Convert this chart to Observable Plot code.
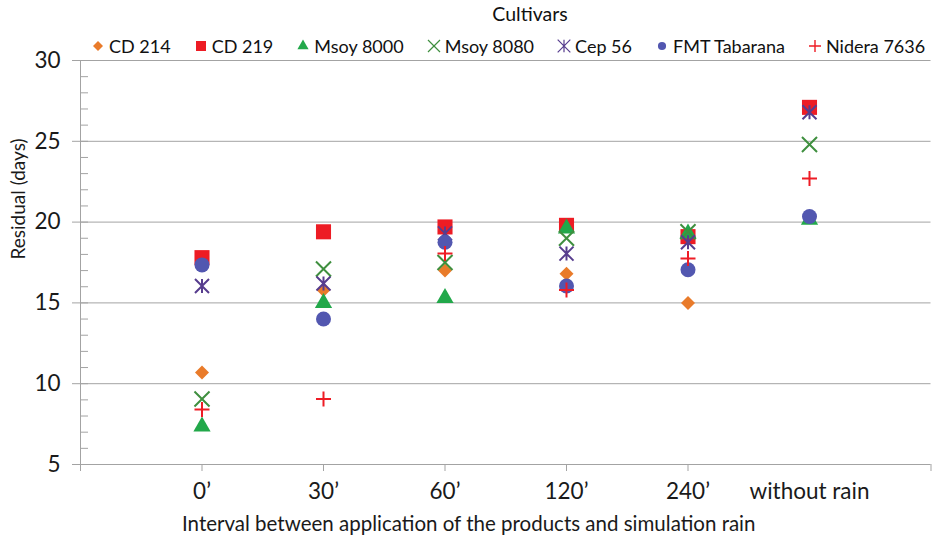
<!DOCTYPE html>
<html><head><meta charset="utf-8">
<script src="https://cdn.jsdelivr.net/npm/d3@7"></script>
<script src="https://cdn.jsdelivr.net/npm/@observablehq/plot@0.6"></script>
<style>
body{margin:0;background:#fff;font-family:Lato,sans-serif;}
#wrap{width:938px;}
#legend{position:relative;height:56px;}
#ltitle{position:absolute;left:530px;top:2px;transform:translateX(-50%);font-size:19.5px;color:#111;white-space:nowrap;}
#lrow{position:absolute;left:91px;top:35px;display:flex;align-items:center;font-size:18px;color:#111;white-space:nowrap;}
.item{display:flex;align-items:center;margin-right:23px;}
.item svg{margin-right:4px;display:block;}
#chart svg{overflow:visible;}
</style></head><body>
<div id="wrap"><div id="legend"><div id="ltitle">Cultivars</div><div id="lrow"></div></div><div id="chart"></div></div>
<script>
// ---- data ----
const categories = ["0’", "30’", "60’", "120’", "240’", "without rain"];
const seriesNames = ["CD 214", "CD 219", "Msoy 8000", "Msoy 8080", "Cep 56", "FMT Tabarana", "Nidera 7636"];
const cd214      = [10.7, 15.8, 17.0, 16.8, 15.0, 20.3];
const cd219      = [17.8, 19.4, 19.7, 19.8, 19.1, 27.1];
const msoy8000   = [7.35, 15.0, 15.3, 19.6, 19.3, 20.15];
const msoy8080   = [9.05, 17.1, 17.5, 19.0, 19.4, 24.8];
const cep56      = [16.05, 16.2, 19.3, 18.05, 18.75, 26.8];
const fmtTabarana= [17.35, 14.0, 18.75, 16.05, 17.05, 20.35];
const nidera7636 = [8.4, 9.05, 18.05, 15.8, 17.75, 22.7];
const yTicks = [5, 10, 15, 20, 25, 30];
const yMinor = d3.range(5, 31);
const xTitle = "Interval between application of the products and simulation rain";
const yTitle = "Residual (days)";
const legendTitle = "Cultivars";

const seriesValues = [cd214, cd219, msoy8000, msoy8080, cep56, fmtTabarana, nidera7636];

// ---- styles ----
const asteriskX = {draw(ctx, size){ const h = Math.sqrt(size)/2;
  ctx.moveTo(-h,-h); ctx.lineTo(h,h); ctx.moveTo(h,-h); ctx.lineTo(-h,h); ctx.moveTo(0,-h); ctx.lineTo(0,h);} };
const styles = [
  {symbol: d3.symbolDiamond2, fill: "#E97B2A", stroke: "none", sw: 0, r: 6.3, ls: 64},
  {symbol: d3.symbolSquare,   fill: "#ED1C24", stroke: "none", sw: 0, r: 8.5, ls: 100},
  {symbol: d3.symbolTriangle, fill: "#22A84A", stroke: "none", sw: 0, r: 6.4, ls: 54},
  {symbol: d3.symbolTimes,    fill: "none", stroke: "#3F8F3F", sw: 2, r: 6.9, ls: 96, lsw: 1.2},
  {symbol: asteriskX,         fill: "none", stroke: "#573D8E", sw: 2, r: 7.9, ls: 160, lsw: 1.2},
  {symbol: d3.symbolCircle,   fill: "#5257B0", stroke: "none", sw: 0, r: 7.5, ls: 52},
  {symbol: d3.symbolPlus,     fill: "none", stroke: "#EE1C25", sw: 2, r: 4.9, ls: 49, lsw: 1.4}
];

// ---- legend ----
document.getElementById("ltitle").textContent = legendTitle;
const row = document.getElementById("lrow");
seriesNames.forEach((name, i) => {
  const s = styles[i];
  const item = document.createElement("div"); item.className = "item";
  const ns = "http://www.w3.org/2000/svg";
  const svg = document.createElementNS(ns, "svg");
  svg.setAttribute("width", 14); svg.setAttribute("height", 16);
  const p = document.createElementNS(ns, "path");
  p.setAttribute("d", d3.symbol(s.symbol, s.ls)());
  p.setAttribute("transform", "translate(7,8)");
  p.setAttribute("fill", s.fill); p.setAttribute("stroke", s.stroke);
  if (s.lsw) p.setAttribute("stroke-width", s.lsw);
  svg.appendChild(p);
  const t = document.createElement("span"); t.textContent = name;
  item.appendChild(svg); item.appendChild(t); row.appendChild(item);
});

// ---- chart ----
const W = 938, H = 489, mL = 80, mR = 7.5, mT = 4, mB = 81;
const grey = "#a3a3a3";
const dots = seriesValues.map((vals, i) => {
  const s = styles[i];
  const data = categories.map((c, j) => ({x: j + 1, y: vals[j]}));
  return Plot.dot(data, {x: "x", y: "y", symbol: s.symbol, r: s.r, fill: s.fill, stroke: s.stroke, strokeWidth: s.sw});
});
const chart = Plot.plot({
  width: W, height: H, marginLeft: mL, marginRight: mR, marginTop: mT, marginBottom: mB,
  style: {fontFamily: "Lato, sans-serif", background: "#fff", color: "#1a1a1a", overflow: "visible"},
  x: {type: "linear", domain: [0, categories.length + 1]},
  y: {domain: [5, 30]},
  marks: [
    Plot.ruleY(yTicks, {stroke: grey}),
    Plot.tickY(yMinor, {stroke: grey, insetRight: (W - mL - mR) - 8}),
    Plot.ruleX([0], {stroke: grey}),
    Plot.axisY({ticks: yTicks, tickSize: 8, tickPadding: 12, fontSize: 22.5, label: null, stroke: grey, fill: "#1a1a1a"}),
    Plot.axisX({ticks: [0, 1, 2, 3, 4, 5, 7], tickSize: 7, tickFormat: () => "", label: null, stroke: grey}),
    Plot.axisX({ticks: d3.range(1, categories.length + 1), tickSize: 0, tickPadding: 18.5, tickFormat: i => categories[i - 1], fontSize: 22.5, label: null, fill: "#1a1a1a"}),
    Plot.text([xTitle], {frameAnchor: "bottom", dy: 66.4, dx: -37, fontSize: 20.5, fill: "#1a1a1a"}),
    Plot.text([yTitle], {frameAnchor: "left", rotate: -90, dx: -62, dy: -3, fontSize: 19, fill: "#1a1a1a"}),
    ...dots
  ]
});
document.getElementById("chart").appendChild(chart);
</script>
</body></html>
